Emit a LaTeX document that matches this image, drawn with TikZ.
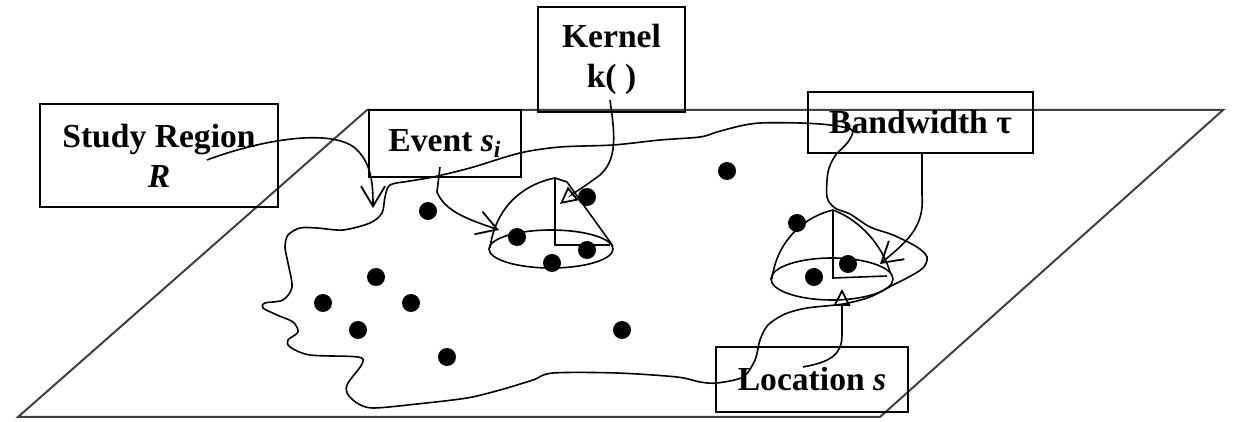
\documentclass[tikz,border=0pt]{standalone}
\usepackage{fontspec}
\setmainfont{Liberation Serif}
\usetikzlibrary{arrows.meta}
\begin{document}
\begin{tikzpicture}[x=0.5pt,y=-0.5pt,
  box/.style={draw, line width=1pt, align=center, inner sep=0pt,
    font=\fontsize{16.8}{20}\selectfont\bfseries},
  plane/.style={draw=black!75, line width=1pt},
  curve/.style={line width=0.8pt},
  barb/.style={curve, -{Straight Barb[length=10pt,width=12pt,line width=0.9pt]}},
  tri/.style={curve, -{Triangle[open,length=8.5pt,width=8.5pt,line width=0.9pt]}},
  dot/.style={circle, fill=black, inner sep=0pt, minimum size=9pt}]
\useasboundingbox (0,0) rectangle (1233,422);

% plane
\draw[plane] (367,110) -- (1223,110) -- (880,417) -- (18,417) -- cycle;

% study region boundary
\draw[curve] plot[smooth cycle, tension=0.5] coordinates {
 (390,185) (410,181) (433,177) (470,168) (520,153) (560,147) (613,145)
 (660,140) (700,137) (717,132) (740,126) (760,123) (800,123) (830,125)
 (852,130) (848,142) (835,156) (828,172) (827,197) (835,208) (850,214)
 (870,227) (893,235) (917,247) (927,257) (923,268) (907,278) (893,285)
 (870,297) (843,304) (807,308) (785,314) (768,325) (760,340) (755,360)
 (743,377) (717,383) (700,382) (677,377) (617,373) (553,373) (533,380)
 (500,390) (467,398) (417,404) (373,408) (357,403) (347,393) (348,383)
 (362,364) (358,357) (310,355) (290,347) (288,340) (298,332) (293,322)
 (277,315) (263,308) (265,303) (283,300) (292,287) (288,263) (285,247)
 (288,235) (300,228) (317,228) (343,230) (370,223) (382,213) (385,197)};

% kernel cones
\draw[curve] (551,249) ellipse [x radius=31pt, y radius=9.5pt];
\draw[curve] (490,248) .. controls (495,210) and (520,185) .. (555,178) -- (567,182) -- (613,246);
\draw[curve] (555,178) -- (555,245) -- (610,245);

\draw[curve] (832,279) ellipse [x radius=30.5pt, y radius=10.5pt];
\draw[curve] (772,279) .. controls (776,245) and (800,218) .. (833,210)
  .. controls (860,220) and (882,245) .. (890,272);
\draw[curve] (833,210) -- (833,278) -- (887,276);

% events
\foreach \p/\q [count=\i] in {428/211, 376/277, 323/303, 411/303, 358/330, 447/357,
  622/330, 517/237, 552/263, 587/250, 587/197, 727/171, 797/223, 814/277, 848/264}
  \node[dot] (e\i) at (\p,\q) {};

% boxes
\node[box, minimum width=119pt, minimum height=51.5pt] (sr) at (159,155.5)
  {Study Region\\\textit{R}};
\node[box, minimum width=73.5pt, minimum height=52.5pt] (ke) at (611.5,59.5)
  {Kernel\\k( )};
\node[box, minimum width=76pt, minimum height=33.5pt] (ev) at (445,143.5)
  {Event \textit{s}\textsubscript{\textit{i}}};
\node[box, minimum width=112.5pt, minimum height=30.5pt] (bw) at (920.5,122.5)
  {Bandwidth τ};
\node[box, minimum width=96pt, minimum height=32.5pt] (lo) at (812,379.5)
  {Location \textit{s}};

% connectors
\coordinate (srA) at (207,160);
\coordinate (srB) at (373,208);
\draw[barb] (srA) .. controls (260,140) and (330,128) .. (355,148)
  .. controls (372,163) and (373,185) .. (srB);

\coordinate (evA) at (440,167);
\coordinate (evB) at (499,230);
\draw[barb] (evA) -- (437,192) .. controls (445,212) and (470,220) .. (evB);

\coordinate (keA) at (610,100);
\coordinate (keB) at (560,204);
\draw[tri] (keA) .. controls (614,130) and (620,162) .. (596,178)
  .. controls (582,188) and (570,196) .. (keB);

\coordinate (bwA) at (922,153);
\coordinate (bwB) at (880,264);
\draw[barb] (bwA) -- (922,195) .. controls (925,228) and (905,243) .. (bwB);

\coordinate (loA) at (803,367);
\coordinate (loB) at (842,289);
\draw[tri] (loA) .. controls (830,362) and (842,355) .. (842,335) -- (loB);
\end{tikzpicture}
\end{document}
